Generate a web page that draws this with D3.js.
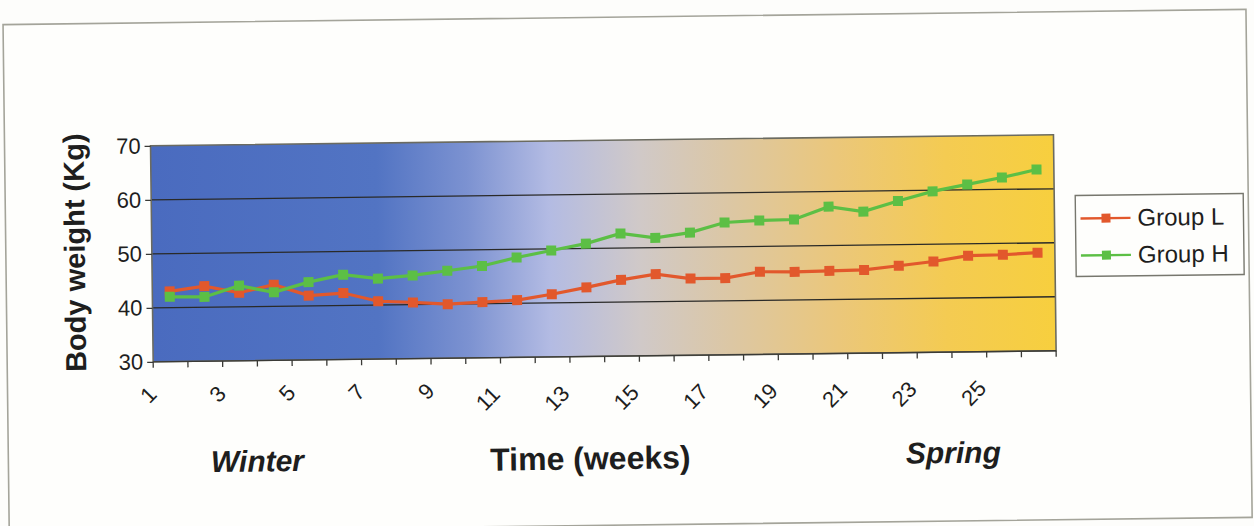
<!DOCTYPE html>
<html>
<head>
<meta charset="utf-8">
<script src="https://cdn.jsdelivr.net/npm/d3@7"></script>
<style>
  body { margin: 0; background: #fdfdfb; }
  svg text { font-family: "Liberation Sans", Arial, sans-serif; fill: #1e1e1e; }
  .grid line { stroke: #2a2a28; stroke-width: 1.3; }
  .axis path, .axis line { stroke: #3a3a36; stroke-width: 1.3; }
</style>
</head>
<body>
<div id="chart"></div>
<script>
// weeks 1..26
var weeks = d3.range(1, 27).map(String);
var groupL = [43.0, 43.9, 42.6, 44.0, 41.9, 42.3, 40.7, 40.4, 40.0, 40.3, 40.6, 41.6, 42.8,
              44.1, 45.1, 44.2, 44.2, 45.3, 45.2, 45.3, 45.4, 46.1, 46.8, 47.8, 47.9, 48.2];
var groupH = [42.0, 41.9, 43.9, 42.6, 44.4, 45.7, 44.9, 45.4, 46.2, 47.0, 48.5, 49.7, 50.9,
              52.7, 51.8, 52.7, 54.5, 54.8, 54.9, 57.2, 56.2, 58.1, 59.8, 61.0, 62.2, 63.6];
var yTicks = [30, 40, 50, 60, 70];
var xLabels = weeks.filter(function(d, i) { return i % 2 == 0; });
var seriesNames = ["Group L", "Group H"];
var seriesColors = ["#e2582c", "#5cbf45"];

var width = 1254, height = 526;
var plotL = 152, plotR = 1055, plotT = 140, plotB = 356;

var svg = d3.select("#chart").append("svg")
  .attr("width", width)
  .attr("height", height);

// the scan is turned a little, so the whole chart is too
var root = svg.append("g").attr("transform", "rotate(-0.7,627,263)");

root.append("rect")
  .attr("x", 6).attr("y", 17)
  .attr("width", 1243).attr("height", 508)
  .attr("fill", "#fefefc")
  .attr("stroke", "#a4a49a").attr("stroke-width", 1.6);

var grad = svg.append("defs").append("linearGradient")
  .attr("id", "bg").attr("x1", "0%").attr("x2", "100%").attr("y1", "0%").attr("y2", "0%");
[[0, "#4a6bbf"], [0.25, "#5274c3"], [0.35, "#7c92d1"], [0.44, "#b3bbe3"],
 [0.54, "#d0c9c8"], [0.64, "#dcc7a4"], [0.76, "#ebc77a"], [0.88, "#f4cb52"], [1, "#f7cf3e"]]
  .forEach(function(s) {
    grad.append("stop").attr("offset", s[0]).attr("stop-color", s[1]);
  });

var x = d3.scaleBand().domain(weeks).range([plotL, plotR]);
var y = d3.scaleLinear().domain([30, 70]).range([plotB, plotT]);

root.append("rect")
  .attr("x", plotL).attr("y", plotT)
  .attr("width", plotR - plotL).attr("height", plotB - plotT)
  .attr("fill", "url(#bg)");

root.append("g").attr("class", "grid")
  .selectAll("line")
  .data(yTicks.slice(1, 4))
  .enter().append("line")
  .attr("x1", plotL).attr("x2", plotR)
  .attr("y1", function(d) { return y(d); })
  .attr("y2", function(d) { return y(d); });

root.append("rect")
  .attr("x", plotL).attr("y", plotT)
  .attr("width", plotR - plotL).attr("height", plotB - plotT)
  .attr("fill", "none").attr("stroke", "#6b6b60").attr("stroke-width", 1.6);

// y axis
var yAxis = root.append("g").attr("class", "axis")
  .attr("transform", "translate(" + plotL + ",0)")
  .call(d3.axisLeft(y).tickValues(yTicks).tickSize(6).tickPadding(4));
yAxis.select(".domain").remove();
yAxis.selectAll("text").style("font-size", "22px").attr("fill", "#1e1e1e");

// x axis, ticks on the category edges
var edges = weeks.map(function(d) { return x(d); }).concat([plotR]);
var xAxis = root.append("g").attr("class", "axis");
xAxis.append("line")
  .attr("x1", plotL).attr("x2", plotR).attr("y1", plotB).attr("y2", plotB);
xAxis.selectAll(".tick")
  .data(edges)
  .enter().append("line")
  .attr("x1", function(d) { return d; }).attr("x2", function(d) { return d; })
  .attr("y1", plotB).attr("y2", plotB + 6);
xAxis.selectAll(".lbl")
  .data(xLabels)
  .enter().append("text")
  .attr("text-anchor", "end")
  .style("font-size", "22px")
  .attr("transform", function(d) {
    var extra = d.length - 1;
    return "translate(" + (x(d) + x.bandwidth() / 2 - 13 - extra * 4) + "," +
      (plotB + 34 + extra * 4) + ") rotate(-45)";
  })
  .text(function(d) { return d; });

// titles
root.append("text")
  .attr("transform", "translate(85,246) rotate(-90)")
  .attr("text-anchor", "middle")
  .style("font-size", "29px").style("font-weight", "bold")
  .text("Body weight (Kg)");
root.append("text")
  .attr("x", 588).attr("y", 469)
  .attr("text-anchor", "middle")
  .style("font-size", "32px").style("font-weight", "bold")
  .text("Time (weeks)");
root.append("text")
  .attr("x", 255).attr("y", 467)
  .attr("text-anchor", "middle")
  .style("font-size", "30px").style("font-weight", "bold").style("font-style", "italic")
  .text("Winter");
root.append("text")
  .attr("x", 951).attr("y", 467)
  .attr("text-anchor", "middle")
  .style("font-size", "30px").style("font-weight", "bold").style("font-style", "italic")
  .text("Spring");

// series
var series = [groupL, groupH];
var line = d3.line()
  .x(function(d, i) { return x(weeks[i]) + x.bandwidth() / 2; })
  .y(function(d) { return y(d); });

series.forEach(function(vals, k) {
  var g = root.append("g");
  g.append("path")
    .attr("d", line(vals))
    .attr("fill", "none")
    .attr("stroke", seriesColors[k])
    .attr("stroke-width", 3.2);
  g.selectAll("rect")
    .data(vals)
    .enter().append("rect")
    .attr("x", function(d, i) { return x(weeks[i]) + x.bandwidth() / 2 - 5; })
    .attr("y", function(d) { return y(d) - 5; })
    .attr("width", 10).attr("height", 10)
    .attr("fill", seriesColors[k]);
});

// legend
var legend = root.append("g").attr("transform", "translate(1076,201)");
legend.append("rect")
  .attr("width", 168).attr("height", 81)
  .attr("fill", "#fefefc")
  .attr("stroke", "#77776e").attr("stroke-width", 1.4);
seriesNames.forEach(function(name, k) {
  var ly = 23 + k * 37;
  legend.append("line")
    .attr("x1", 5).attr("x2", 55).attr("y1", ly).attr("y2", ly)
    .attr("stroke", seriesColors[k]).attr("stroke-width", 2.4);
  legend.append("rect")
    .attr("x", 26).attr("y", ly - 4.5).attr("width", 9).attr("height", 9)
    .attr("fill", seriesColors[k]);
  legend.append("text")
    .attr("x", 62).attr("y", ly + 8)
    .style("font-size", "24px")
    .text(name);
});
</script>
</body>
</html>
